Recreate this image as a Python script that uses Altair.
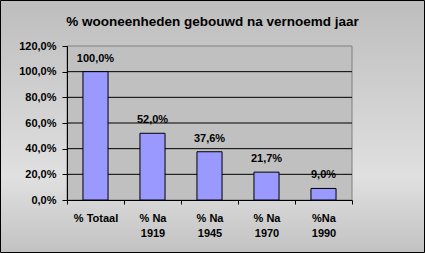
import altair as alt
import pandas as pd

categories = ["% Totaal", "% Na\n1919", "% Na\n1945", "% Na\n1970", "%Na\n1990"]
values = [100.0, 52.0, 37.6, 21.7, 9.0]
y_ticks = [0, 20, 40, 60, 80, 100, 120]
grid_values = [20, 40, 60, 80, 100]
title_text = "% wooneenheden gebouwd na vernoemd jaar"

FONT = "Liberation Sans"
W, H = 285, 154

df = pd.DataFrame({"cat": categories, "val": values})
grid_df = pd.DataFrame({"val": grid_values})
one = pd.DataFrame({"a": [0]})

gradient = alt.LinearGradient(
    gradient="linear",
    x1=0, x2=0, y1=0, y2=1,
    stops=[
        alt.GradientStop(color="#bdbdbd", offset=0),
        alt.GradientStop(color="#e0e0e0", offset=0.7),
        alt.GradientStop(color="#c2c2c2", offset=1),
    ],
)

yscale = alt.Scale(domain=[0, 120], nice=False, zero=True)
xscale = alt.Scale(paddingInner=0, paddingOuter=0)

x_axis = alt.Axis(
    title=None,
    labelAngle=0,
    tickBand="extent",
    tickSize=4,
    tickColor="black",
    domainColor="black",
    labelFont=FONT,
    labelFontSize=11,
    labelFontWeight="bold",
    labelColor="black",
    labelPadding=8,
    labelLineHeight=15,
    labelOverlap=False,
    labelExpr="datum.value ? split(datum.value, '\\n') : ''",
    zindex=1,
)
y_axis = alt.Axis(
    title=None,
    values=y_ticks,
    grid=False,
    tickSize=5,
    tickColor="black",
    domainColor="black",
    labelFont=FONT,
    labelFontSize=11,
    labelFontWeight="bold",
    labelColor="black",
    labelPadding=6,
    labelOverlap=False,
    labelExpr="replace(format(datum.value, '.1f'), '.', ',') + '%'",
    zindex=1,
)

bg = alt.Chart(one).mark_rect(fill=gradient, stroke="black", strokeWidth=1).encode(
    x=alt.value(-66.5), x2=alt.value(357.5), y=alt.value(-45.5), y2=alt.value(206.5)
)

plotbg = alt.Chart(one).mark_rect(fill="#c0c0c0", stroke="#808080", strokeWidth=1).encode(
    x=alt.value(0), x2=alt.value(W), y=alt.value(0), y2=alt.value(H)
)

grid = alt.Chart(grid_df).mark_rule(color="black", strokeWidth=1).encode(
    y=alt.Y("val:Q", scale=yscale, axis=y_axis)
)

bars = alt.Chart(df).mark_bar(
    width=alt.RelativeBandSize(0.44), color="#9999ff", stroke="black", strokeWidth=1
).encode(
    x=alt.X("cat:N", sort=None, scale=xscale, axis=x_axis),
    y=alt.Y("val:Q", scale=yscale, axis=y_axis),
)

labels = alt.Chart(df).transform_calculate(
    lab="replace(format(datum.val, '.1f'), '.', ',') + '%'"
).mark_text(
    font=FONT, fontSize=11, fontWeight="bold", color="black", baseline="alphabetic", dy=-10
).encode(
    x=alt.X("cat:N", sort=None, scale=xscale, axis=x_axis),
    y=alt.Y("val:Q", scale=yscale, axis=y_axis),
    text="lab:N",
)

chart = alt.layer(bg, plotbg, grid, bars, labels).properties(
    width=W,
    height=H,
    title=alt.TitleParams(
        title_text,
        font=FONT,
        fontSize=13.5,
        fontWeight="bold",
        color="black",
        anchor="middle",
        frame="group",
        baseline="alphabetic",
        dx=3,
        offset=-39,
        zindex=1,
    ),
    autosize=alt.AutoSizeParams(type="none"),
    padding={"left": 67, "top": 46, "right": 73, "bottom": 53},
).configure_view(stroke=None, fill=None).configure(background="#c8c8c8")

chart.save("out.html", embed_options={"renderer": "svg", "actions": False})
